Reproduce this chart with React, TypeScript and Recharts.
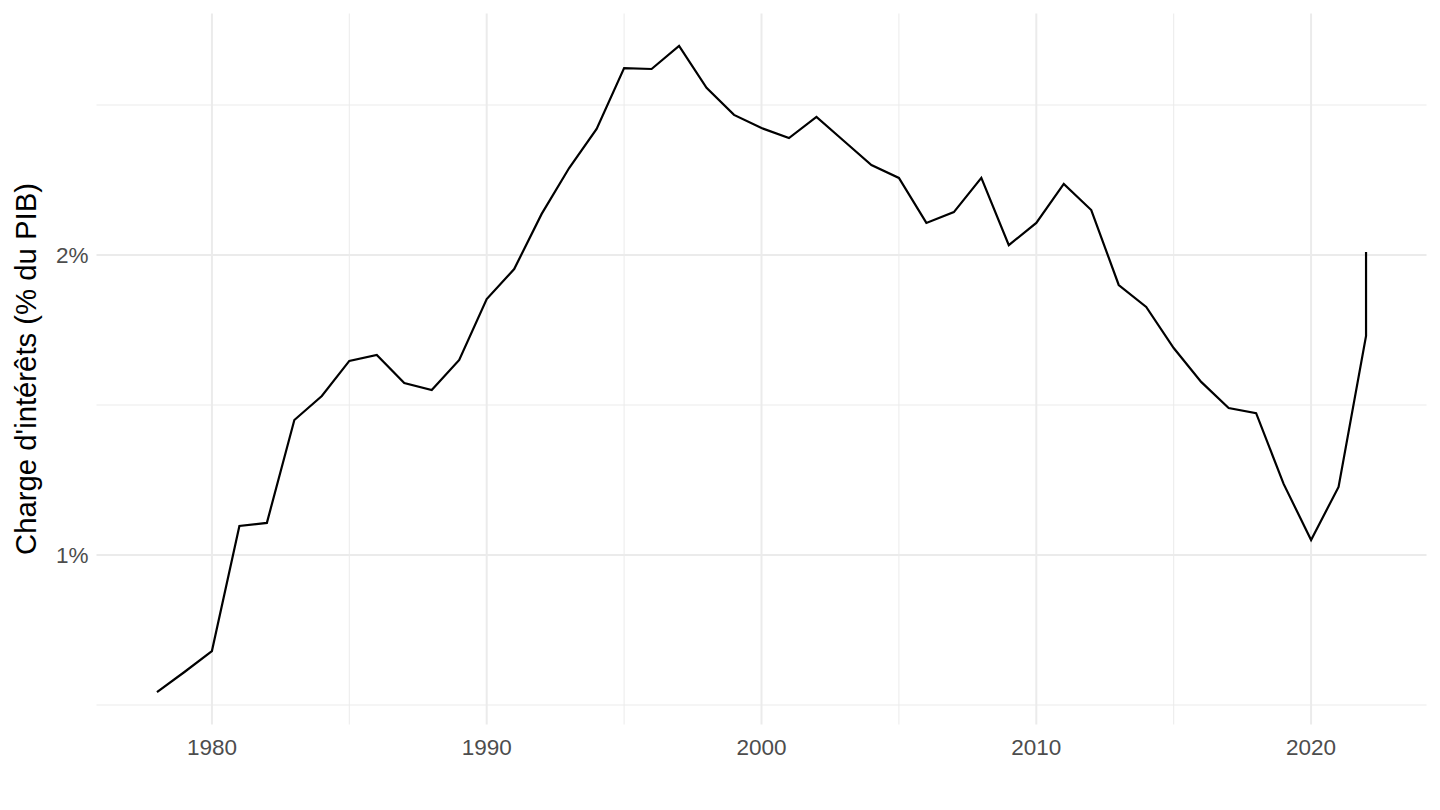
import React from "react";
import { LineChart, Line, XAxis, YAxis, ReferenceLine } from "recharts";

const years = [
  1978, 1979, 1980, 1981, 1982, 1983, 1984, 1985, 1986, 1987, 1988, 1989,
  1990, 1991, 1992, 1993, 1994, 1995, 1996, 1997, 1998, 1999, 2000, 2001,
  2002, 2003, 2004, 2005, 2006, 2007, 2008, 2009, 2010, 2011, 2012, 2013,
  2014, 2015, 2016, 2017, 2018, 2019, 2020, 2021, 2022, 2022,
];
const values = [
  0.543, 0.61, 0.68, 1.097, 1.107, 1.45, 1.53, 1.647, 1.667, 1.573, 1.55, 1.65,
  1.853, 1.953, 2.137, 2.29, 2.42, 2.623, 2.62, 2.697, 2.557, 2.467, 2.423, 2.39,
  2.46, 2.38, 2.3, 2.257, 2.107, 2.143, 2.257, 2.033, 2.107, 2.237, 2.15, 1.9,
  1.827, 1.69, 1.577, 1.49, 1.473, 1.237, 1.05, 1.227, 1.73, 2.01,
];
const xTicks = [1980, 1990, 2000, 2010, 2020];
const xMinor = [1985, 1995, 2005, 2015];
const yTicks = [1, 2];
const yMinor = [0.5, 1.5, 2.5];
const yTickLabels = ["1%", "2%"];
const yTitle = "Charge d'intérêts (% du PIB)";

const data = years.map((y, i) => ({ year: y, value: values[i] }));

const FONT = "'Liberation Sans', Arial, Helvetica, sans-serif";

const XTick = (props: any) => (
  <text
    x={props.x}
    y={props.y}
    dy={22}
    textAnchor="middle"
    fill="#4d4d4d"
    fontSize={22.5}
    fontFamily={FONT}
  >
    {props.payload.value}
  </text>
);

const YTick = (props: any) => {
  const idx = yTicks.indexOf(props.payload.value);
  return (
    <text
      x={props.x}
      y={props.y}
      dy="0.36em"
      textAnchor="end"
      fill="#4d4d4d"
      fontSize={22.5}
      fontFamily={FONT}
    >
      {idx >= 0 ? yTickLabels[idx] : props.payload.value}
    </text>
  );
};

const YTitle = (props: any) => {
  const vb = props.viewBox || {};
  const cy = vb.y + vb.height / 2;
  const bx = 36;
  return (
    <text
      x={bx}
      y={cy}
      transform={`rotate(-90 ${bx} ${cy})`}
      textAnchor="middle"
      fill="#000"
      fontSize={29.3}
      fontFamily={FONT}
    >
      {yTitle}
    </text>
  );
};

export default function App() {
  return (
    <div style={{ position: "absolute", left: 0, top: 0, width: 1440, height: 810, background: "#fff" }}>
      <LineChart
        width={1440}
        height={810}
        data={data}
        margin={{ top: 13.5, right: 13.5, left: 0, bottom: 0 }}
      >
        {xMinor.map((v) => (
          <ReferenceLine key={"xm" + v} x={v} stroke="#ebebeb" strokeWidth={1} />
        ))}
        {yMinor.map((v) => (
          <ReferenceLine key={"ym" + v} y={v} stroke="#ebebeb" strokeWidth={1} />
        ))}
        {xTicks.map((v) => (
          <ReferenceLine key={"xM" + v} x={v} stroke="#ebebeb" strokeWidth={2} />
        ))}
        {yTicks.map((v) => (
          <ReferenceLine key={"yM" + v} y={v} stroke="#ebebeb" strokeWidth={2} />
        ))}
        <XAxis
          dataKey="year"
          type="number"
          domain={[1975.8, 2024.2]}
          allowDataOverflow
          ticks={xTicks}
          axisLine={false}
          tickLine={false}
          height={85.5}
          tick={<XTick />}
          interval={0}
        />
        <YAxis
          type="number"
          domain={[0.435, 2.805]}
          allowDataOverflow
          ticks={yTicks}
          axisLine={false}
          tickLine={false}
          width={96.5}
          tick={<YTick />}
          interval={0}
          label={<YTitle />}
        />
        <Line
          type="linear"
          dataKey="value"
          stroke="#000"
          strokeWidth={2.2}
          dot={false}
          activeDot={false}
          isAnimationActive={false}
        />
      </LineChart>
    </div>
  );
}
